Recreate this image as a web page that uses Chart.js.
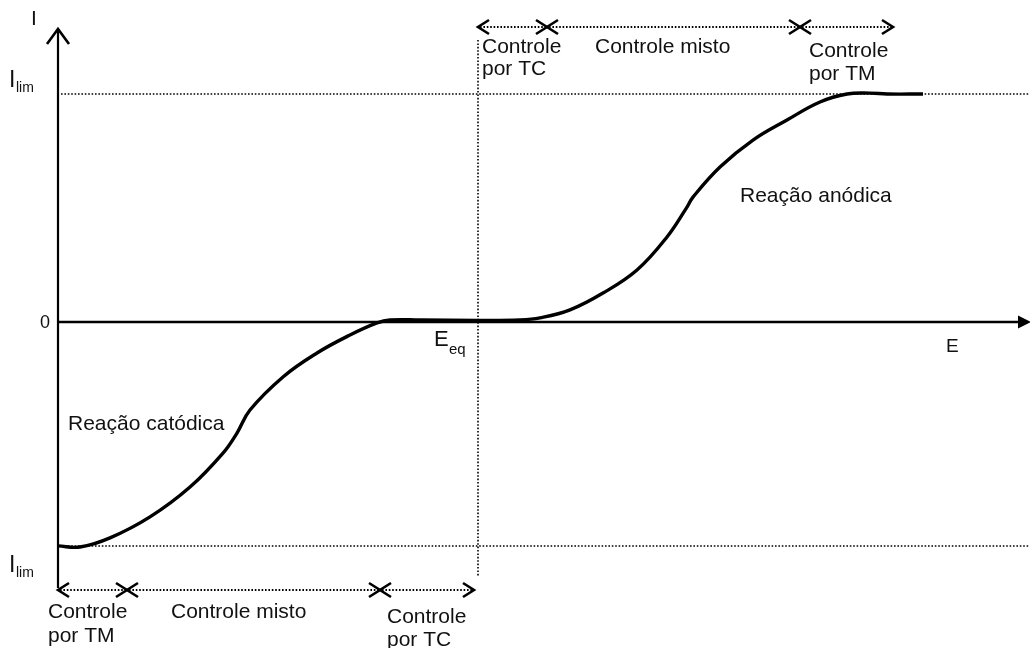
<!DOCTYPE html>
<html>
<head>
<meta charset="utf-8">
<title>Curva de polarização</title>
<script src="https://cdn.jsdelivr.net/npm/chart.js@4/dist/chart.umd.min.js"></script>
<style>
  html, body { margin: 0; padding: 0; background: #fff; }
  canvas { display: block; }
</style>
</head>
<body>
<canvas id="polChart" width="1030" height="648"></canvas>
<script>
// Potential E (Eeq = 0) and current I (Ilim = 1)
const potentialE = [-4.20, -3.98, -3.68, -3.28, -2.88, -2.55, -2.41, -2.28, -1.95, -1.61, -1.28, -1.01, -0.88, -0.58, 0.00,
                    0.42, 0.62, 0.92, 1.25, 1.59, 1.89, 2.09, 2.15, 2.42, 2.75, 3.09, 3.42, 3.69, 3.92, 4.09, 4.45];
const currentI = [-0.982, -0.987, -0.947, -0.855, -0.724, -0.575, -0.487, -0.386, -0.241, -0.136, -0.057, -0.004, 0.009, 0.009, 0.007,
                  0.009, 0.018, 0.053, 0.127, 0.228, 0.373, 0.504, 0.548, 0.680, 0.798, 0.886, 0.965, 1.000, 1.004, 1.000, 1.000];

// Limits of the control zones (in E units)
const anodicZones = [0, 0.69, 3.22, 4.15];
const cathodicZones = [-4.2, -3.51, -0.98, -0.04];
const anodicLabels = [["Controle", "por TC"], ["Controle misto"], ["Controle", "por TM"]];
const cathodicLabels = [["Controle", "por TM"], ["Controle misto"], ["Controle", "por TC"]];

const FONT = '"Liberation Sans", Arial, sans-serif';

function dottedLine(ctx, x1, y1, x2, y2, w) {
    ctx.save();
    ctx.strokeStyle = "#000";
    ctx.lineWidth = w || 1.6;
    ctx.setLineDash([1.6, 1.8]);
    ctx.beginPath();
    ctx.moveTo(x1, y1);
    ctx.lineTo(x2, y2);
    ctx.stroke();
    ctx.restore();
}

function chevron(ctx, x, y, dir) {
    ctx.beginPath();
    ctx.moveTo(x - dir * 11, y - 7);
    ctx.lineTo(x, y);
    ctx.lineTo(x - dir * 11, y + 7);
    ctx.stroke();
}

function zoneArrows(ctx, xs, y) {
    for (let i = 0; i < xs.length - 1; i++) {
        dottedLine(ctx, xs[i] + 2, y, xs[i + 1] - 2, y, 2);
        ctx.save();
        ctx.strokeStyle = "#000";
        ctx.lineWidth = 2.6;
        chevron(ctx, xs[i], y, -1);
        chevron(ctx, xs[i + 1], y, 1);
        ctx.restore();
    }
}

function text(ctx, str, x, y, size, align) {
    ctx.font = size + "px " + FONT;
    ctx.textAlign = align || "left";
    ctx.textBaseline = "alphabetic";
    ctx.fillText(str, x, y);
}

const schemePlugin = {
    id: "scheme",
    beforeDatasetsDraw(chart) {
        const ctx = chart.ctx;
        const sx = chart.scales.x, sy = chart.scales.y;
        const x0 = sx.getPixelForValue(-4.2);
        const xEnd = 1030;
        // Ilim guide lines and Eeq line
        dottedLine(ctx, x0 + 3, Math.round(sy.getPixelForValue(1)), xEnd, Math.round(sy.getPixelForValue(1)));
        dottedLine(ctx, x0 + 3, Math.round(sy.getPixelForValue(-0.982)), xEnd, Math.round(sy.getPixelForValue(-0.982)));
        dottedLine(ctx, Math.round(sx.getPixelForValue(0)), 40, Math.round(sx.getPixelForValue(0)), 576);
    },
    afterDatasetsDraw(chart) {
        const ctx = chart.ctx;
        const sx = chart.scales.x, sy = chart.scales.y;
        const x0 = sx.getPixelForValue(-4.2);
        const yZero = sy.getPixelForValue(0);
        ctx.save();
        ctx.strokeStyle = "#000";
        ctx.fillStyle = "#000";

        // I axis with open arrow head
        ctx.lineWidth = 2.2;
        ctx.beginPath();
        ctx.moveTo(x0, 588);
        ctx.lineTo(x0, 29);
        ctx.stroke();
        ctx.lineWidth = 2.6;
        ctx.beginPath();
        ctx.moveTo(x0 - 11, 44);
        ctx.lineTo(x0, 29);
        ctx.lineTo(x0 + 11, 44);
        ctx.stroke();

        // E axis with filled arrow head
        ctx.lineWidth = 2.4;
        ctx.beginPath();
        ctx.moveTo(x0, yZero);
        ctx.lineTo(1020, yZero);
        ctx.stroke();
        ctx.beginPath();
        ctx.moveTo(1031, yZero);
        ctx.lineTo(1018, yZero - 6.5);
        ctx.lineTo(1018, yZero + 6.5);
        ctx.closePath();
        ctx.fill();

        // control zone arrows
        zoneArrows(ctx, anodicZones.map(v => sx.getPixelForValue(v)), 27);
        zoneArrows(ctx, cathodicZones.map(v => sx.getPixelForValue(v)), 590);

        // zone labels
        ctx.fillStyle = "#111";
        text(ctx, anodicLabels[0][0], 482, 53, 21);
        text(ctx, anodicLabels[0][1], 482, 75, 21);
        text(ctx, anodicLabels[1][0], 595, 53, 21);
        text(ctx, anodicLabels[2][0], 809, 57, 21);
        text(ctx, anodicLabels[2][1], 809, 80, 21);
        text(ctx, cathodicLabels[0][0], 48, 618, 21);
        text(ctx, cathodicLabels[0][1], 48, 642, 21);
        text(ctx, cathodicLabels[1][0], 171, 618, 21);
        text(ctx, cathodicLabels[2][0], 387, 623, 21);
        text(ctx, cathodicLabels[2][1], 387, 646, 21);

        // reaction labels
        text(ctx, "Reação catódica", 68, 430, 21);
        text(ctx, "Reação anódica", 740, 202, 21);

        // axis labels
        text(ctx, "I", 31, 25, 21);
        text(ctx, "I", 9, 87, 23);
        text(ctx, "lim", 16, 92, 14);
        text(ctx, "I", 9, 572, 23);
        text(ctx, "lim", 16, 577, 14);
        text(ctx, "0", 50, yZero + 6, 18, "right");
        text(ctx, "E", 946, 352, 19);
        text(ctx, "E", 434, 346, 22);
        text(ctx, "eq", 449, 354, 15);
        ctx.restore();
    }
};

new Chart(document.getElementById("polChart"), {
    type: "scatter",
    data: {
        datasets: [{
            data: potentialE.map((e, i) => ({ x: e, y: currentI[i] })),
            showLine: true,
            borderColor: "#000",
            borderWidth: 3.4,
            pointRadius: 0,
            tension: 0.4,
            fill: false
        }]
    },
    options: {
        responsive: false,
        animation: false,
        layout: { padding: { left: 58, right: 2, top: 25.6, bottom: 52.4 } },
        scales: {
            x: { type: "linear", min: -4.2, max: 5.5, display: false },
            y: { type: "linear", min: -1.2, max: 1.3, display: false }
        },
        plugins: {
            legend: { display: false },
            tooltip: { enabled: false }
        }
    },
    plugins: [schemePlugin]
});
</script>
</body>
</html>
